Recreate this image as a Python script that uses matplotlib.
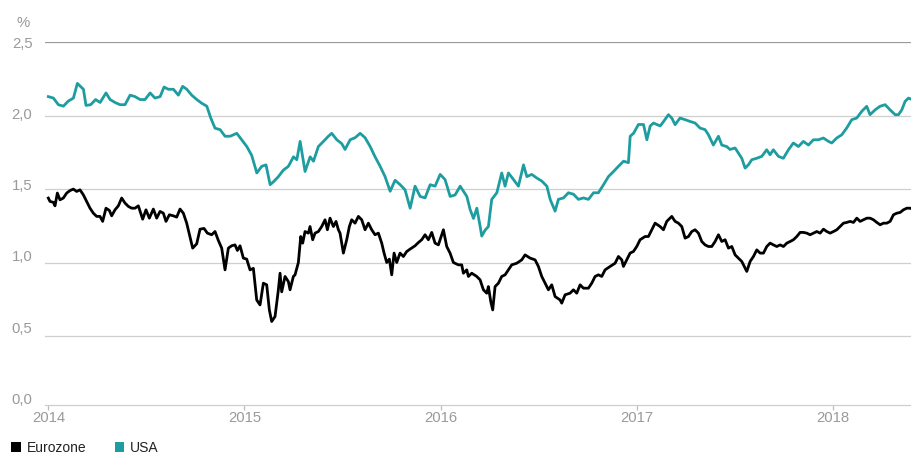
import matplotlib
matplotlib.use("Agg")
import matplotlib.pyplot as plt
from matplotlib.patches import Rectangle
from matplotlib.transforms import ScaledTranslation

# ---------------- data (decimal years, yield in %) ----------------
usa_t = [
    2014.000, 2014.026, 2014.051, 2014.077, 2014.102, 2014.128, 2014.148, 2014.179, 2014.192, 2014.216,
    2014.241, 2014.264, 2014.294, 2014.315, 2014.340, 2014.366, 2014.391, 2014.417, 2014.442, 2014.468,
    2014.493, 2014.519, 2014.544, 2014.570, 2014.590, 2014.612, 2014.638, 2014.663, 2014.685, 2014.706,
    2014.731, 2014.757, 2014.782, 2014.808, 2014.828, 2014.850, 2014.876, 2014.901, 2014.927, 2014.961,
    2014.986, 2015.012, 2015.037, 2015.063, 2015.088, 2015.110, 2015.131, 2015.148, 2015.173, 2015.199,
    2015.224, 2015.250, 2015.267, 2015.284, 2015.309, 2015.335, 2015.352, 2015.377, 2015.403, 2015.428,
    2015.445, 2015.471, 2015.496, 2015.513, 2015.539, 2015.564, 2015.590, 2015.615, 2015.641, 2015.666,
    2015.692, 2015.717, 2015.743, 2015.768, 2015.794, 2015.819, 2015.845, 2015.870, 2015.896, 2015.921,
    2015.947, 2015.972, 2015.998, 2016.023, 2016.049, 2016.074, 2016.100, 2016.134, 2016.151, 2016.168,
    2016.185, 2016.202, 2016.210, 2016.227, 2016.244, 2016.261, 2016.287, 2016.312, 2016.329, 2016.346,
    2016.372, 2016.397, 2016.423, 2016.440, 2016.465, 2016.491, 2016.516, 2016.542, 2016.559, 2016.584,
    2016.601, 2016.627, 2016.652, 2016.678, 2016.703, 2016.729, 2016.754, 2016.780, 2016.805, 2016.831,
    2016.856, 2016.882, 2016.907, 2016.933, 2016.958, 2016.967, 2016.984, 2017.009, 2017.035, 2017.052,
    2017.069, 2017.086, 2017.120, 2017.137, 2017.162, 2017.179, 2017.196, 2017.221, 2017.247, 2017.272,
    2017.298, 2017.323, 2017.349, 2017.366, 2017.391, 2017.417, 2017.434, 2017.459, 2017.476, 2017.502,
    2017.519, 2017.536, 2017.553, 2017.570, 2017.587, 2017.612, 2017.638, 2017.663, 2017.680, 2017.697,
    2017.723, 2017.748, 2017.774, 2017.799, 2017.825, 2017.850, 2017.876, 2017.901, 2017.927, 2017.952,
    2017.978, 2017.995, 2018.020, 2018.046, 2018.071, 2018.097, 2018.122, 2018.148, 2018.173, 2018.190,
    2018.216, 2018.241, 2018.267, 2018.292, 2018.318, 2018.335, 2018.352, 2018.369, 2018.386, 2018.405,
]
usa_v = [
    2.13, 2.12, 2.075, 2.065, 2.10, 2.12, 2.22, 2.18, 2.07, 2.075,
    2.11, 2.09, 2.155, 2.11, 2.09, 2.075, 2.075, 2.14, 2.13, 2.11,
    2.11, 2.155, 2.12, 2.13, 2.195, 2.18, 2.18, 2.14, 2.20, 2.18,
    2.14, 2.11, 2.085, 2.065, 1.985, 1.915, 1.905, 1.86, 1.86, 1.88,
    1.836, 1.79, 1.73, 1.61, 1.655, 1.665, 1.53, 1.55, 1.585, 1.63,
    1.655, 1.72, 1.70, 1.825, 1.62, 1.72, 1.69, 1.79, 1.825, 1.86,
    1.88, 1.836, 1.81, 1.77, 1.836, 1.85, 1.88, 1.85, 1.79, 1.72,
    1.655, 1.585, 1.485, 1.56, 1.53, 1.495, 1.37, 1.52, 1.45, 1.44,
    1.53, 1.52, 1.60, 1.565, 1.45, 1.46, 1.52, 1.45, 1.36, 1.30,
    1.37, 1.245, 1.18, 1.22, 1.245, 1.43, 1.475, 1.61, 1.52, 1.61,
    1.565, 1.52, 1.665, 1.585, 1.60, 1.575, 1.555, 1.52, 1.43, 1.35,
    1.43, 1.44, 1.475, 1.465, 1.43, 1.44, 1.43, 1.475, 1.475, 1.53,
    1.585, 1.62, 1.655, 1.69, 1.68, 1.86, 1.88, 1.94, 1.94, 1.836,
    1.93, 1.95, 1.93, 1.96, 2.007, 1.984, 1.939, 1.984, 1.973, 1.961,
    1.95, 1.916, 1.905, 1.87, 1.80, 1.86, 1.80, 1.79, 1.77, 1.78,
    1.745, 1.71, 1.643, 1.666, 1.70, 1.71, 1.723, 1.768, 1.734, 1.768,
    1.723, 1.71, 1.768, 1.814, 1.79, 1.825, 1.80, 1.836, 1.836, 1.848,
    1.825, 1.814, 1.848, 1.87, 1.916, 1.973, 1.984, 2.03, 2.064, 2.007,
    2.04, 2.064, 2.075, 2.04, 2.007, 2.007, 2.04, 2.098, 2.12, 2.11,
]

eur_t = [
    2014.000, 2014.0085, 2014.0255, 2014.034, 2014.046, 2014.0595, 2014.0765, 2014.0935, 2014.1105, 2014.1275,
    2014.1445, 2014.1615, 2014.1785, 2014.1955, 2014.2125, 2014.2295, 2014.2465, 2014.2635, 2014.277, 2014.294,
    2014.311, 2014.323, 2014.340, 2014.357, 2014.374, 2014.391, 2014.408, 2014.425, 2014.442, 2014.459,
    2014.481, 2014.498, 2014.515, 2014.5355, 2014.5525, 2014.5695, 2014.5865, 2014.600, 2014.617, 2014.6375,
    2014.6545, 2014.6715, 2014.6885, 2014.7055, 2014.7225, 2014.736, 2014.7565, 2014.7735, 2014.794, 2014.811,
    2014.833, 2014.850, 2014.867, 2014.884, 2014.901, 2014.918, 2014.935, 2014.952, 2014.964, 2014.9775,
    2014.9945, 2015.0115, 2015.0285, 2015.0455, 2015.0625, 2015.0795, 2015.0965, 2015.1135, 2015.127, 2015.139,
    2015.156, 2015.173, 2015.1815, 2015.190, 2015.207, 2015.224, 2015.2325, 2015.2495, 2015.258, 2015.275,
    2015.287, 2015.297, 2015.309, 2015.326, 2015.3345, 2015.348, 2015.360, 2015.377, 2015.394, 2015.411,
    2015.423, 2015.4365, 2015.4535, 2015.467, 2015.479, 2015.4875, 2015.5045, 2015.5215, 2015.535, 2015.547,
    2015.564, 2015.581, 2015.598, 2015.615, 2015.632, 2015.649, 2015.666, 2015.683, 2015.700, 2015.712,
    2015.7255, 2015.739, 2015.751, 2015.763, 2015.7765, 2015.7935, 2015.8105, 2015.8275, 2015.8445, 2015.870,
    2015.887, 2015.904, 2015.921, 2015.938, 2015.955, 2015.972, 2015.989, 2016.0145, 2016.0315, 2016.0485,
    2016.0655, 2016.091, 2016.108, 2016.1165, 2016.1335, 2016.142, 2016.159, 2016.1845, 2016.2015, 2016.2185,
    2016.2355, 2016.244, 2016.256, 2016.266, 2016.278, 2016.295, 2016.312, 2016.329, 2016.346, 2016.363,
    2016.3885, 2016.414, 2016.431, 2016.4565, 2016.482, 2016.499, 2016.516, 2016.533, 2016.550, 2016.567,
    2016.584, 2016.6095, 2016.618, 2016.635, 2016.6605, 2016.6775, 2016.6945, 2016.7115, 2016.7285, 2016.754,
    2016.771, 2016.788, 2016.805, 2016.822, 2016.839, 2016.8645, 2016.890, 2016.907, 2016.924, 2016.9325,
    2016.9495, 2016.9665, 2016.9835, 2017.0005, 2017.0175, 2017.043, 2017.060, 2017.094, 2017.1195,
    2017.1365, 2017.1535, 2017.179, 2017.196, 2017.213, 2017.230, 2017.247, 2017.264, 2017.281, 2017.298,
    2017.315, 2017.332, 2017.349, 2017.366, 2017.383, 2017.400, 2017.417, 2017.434, 2017.451, 2017.468,
    2017.485, 2017.502, 2017.519, 2017.536, 2017.553, 2017.5615, 2017.5785, 2017.5955, 2017.6125, 2017.6295,
    2017.6465, 2017.6635, 2017.6805, 2017.6975, 2017.7145, 2017.7315, 2017.7485, 2017.7655, 2017.7825, 2017.7995,
    2017.8165, 2017.8335, 2017.8505, 2017.8675, 2017.8845, 2017.9015, 2017.9185, 2017.9355, 2017.9525, 2017.9695,
    2017.9865, 2018.0035, 2018.0205, 2018.0375, 2018.0545, 2018.0715, 2018.0885, 2018.1055, 2018.1225, 2018.1395,
    2018.1565, 2018.1735, 2018.1905, 2018.2075, 2018.2245, 2018.2415, 2018.2585, 2018.2755, 2018.2925, 2018.3095,
    2018.3265, 2018.3435, 2018.3605, 2018.3775, 2018.3945, 2018.405,
]
eur_v = [
    1.439, 1.416, 1.41, 1.386, 1.473, 1.427, 1.439, 1.473, 1.49, 1.50,
    1.484, 1.495, 1.461, 1.416, 1.37, 1.336, 1.314, 1.314, 1.28, 1.37,
    1.355, 1.318, 1.359, 1.386, 1.439, 1.405, 1.382, 1.37, 1.37, 1.386,
    1.295, 1.359, 1.302, 1.364, 1.302, 1.348, 1.336, 1.28, 1.325, 1.318,
    1.309, 1.364, 1.336, 1.268, 1.173, 1.098, 1.127, 1.227, 1.232, 1.20,
    1.189, 1.211, 1.15, 1.098, 0.95, 1.098, 1.114, 1.12, 1.082, 1.114,
    1.03, 1.023, 0.95, 0.96, 0.745, 0.711, 0.859, 0.848, 0.677, 0.598,
    0.632, 0.814, 0.927, 0.80, 0.905, 0.87, 0.814, 0.905, 0.916, 1.00,
    1.177, 1.132, 1.211, 1.20, 1.245, 1.155, 1.20, 1.211, 1.245, 1.291,
    1.223, 1.302, 1.245, 1.28, 1.223, 1.20, 1.064, 1.155, 1.245, 1.291,
    1.268, 1.314, 1.291, 1.223, 1.268, 1.223, 1.189, 1.20, 1.132, 1.064,
    1.00, 1.023, 0.916, 1.064, 1.00, 1.064, 1.041, 1.075, 1.091, 1.114,
    1.136, 1.155, 1.189, 1.155, 1.205, 1.132, 1.12, 1.223, 1.109, 1.064,
    1.00, 0.984, 0.984, 0.927, 0.95, 0.905, 0.927, 0.905, 0.882, 0.814,
    0.791, 0.836, 0.734, 0.677, 0.836, 0.859, 0.905, 0.916, 0.95, 0.984,
    0.995, 1.018, 1.052, 1.03, 1.018, 0.973, 0.905, 0.859, 0.814, 0.848,
    0.768, 0.745, 0.723, 0.78, 0.791, 0.814, 0.791, 0.848, 0.825, 0.825,
    0.859, 0.905, 0.916, 0.905, 0.95, 0.973, 0.995, 1.041, 1.018, 0.973,
    1.018, 1.064, 1.075, 1.109, 1.155, 1.177, 1.177, 1.268, 1.245,
    1.223, 1.28, 1.314, 1.28, 1.268, 1.245, 1.166, 1.177, 1.211, 1.223,
    1.20, 1.143, 1.12, 1.109, 1.109, 1.143, 1.189, 1.143, 1.155, 1.098,
    1.109, 1.052, 1.03, 1.007, 0.961, 0.939, 1.007, 1.041, 1.086, 1.064,
    1.064, 1.109, 1.132, 1.12, 1.109, 1.12, 1.109, 1.132, 1.143, 1.155,
    1.177, 1.205, 1.205, 1.20, 1.189, 1.20, 1.211, 1.20, 1.227, 1.211,
    1.20, 1.211, 1.223, 1.245, 1.268, 1.273, 1.28, 1.273, 1.302, 1.28,
    1.291, 1.302, 1.302, 1.291, 1.273, 1.257, 1.268, 1.268, 1.28, 1.325,
    1.336, 1.341, 1.359, 1.37, 1.37, 1.364,
]

series_names = ["Eurozone", "USA"]
series_colors = ["#000000", "#1d9da0"]
y_ticks = [0.0, 0.5, 1.0, 1.5, 2.0, 2.5]
y_labels = ["0,0", "0,5", "1,0", "1,5", "2,0", "2,5"]
x_ticks = [2014, 2015, 2016, 2017, 2018]
x_labels = ["2014", "2015", "2016", "2017", "2018"]

# ---------------- figure ----------------
plt.rcParams["font.family"] = ["Liberation Sans", "DejaVu Sans"]
W, H = 912, 454
fig = plt.figure(figsize=(W / 100, H / 100), dpi=100)
ax = fig.add_axes([45 / W, 1 - 409.3 / H, 1 - 45 / W, (409.3 - 42.3) / H])

label_color = "#9a9a9a"

for y in y_ticks[1:]:
    ax.axhline(y, color="#9a9a9a" if y == 2.5 else "#cfcfcf", lw=0.9, zorder=1)

ax.plot(usa_t, usa_v, color=series_colors[1], lw=2.0, zorder=3, solid_joinstyle="round")
ax.plot(eur_t, eur_v, color=series_colors[0], lw=2.0, zorder=4, solid_joinstyle="round")

ax.set_xlim(2013.983, 2018.404)
ax.set_ylim(0, 2.5)

for s in ["top", "right", "left"]:
    ax.spines[s].set_visible(False)
ax.spines["bottom"].set_color("#cfcfcf")
ax.spines["bottom"].set_linewidth(0.9)
ax.spines["bottom"].set_position(("axes", 4.3 / 367))

ax.set_yticks(y_ticks)
ax.set_yticklabels(y_labels)
ax.set_xticks(x_ticks)
ax.set_xticklabels(x_labels)
ax.tick_params(axis="y", length=0, pad=9, labelsize=10.7, labelcolor=label_color)
ax.tick_params(axis="x", length=3.5, width=0.9, color="#bdbdbd", pad=0.5,
               labelsize=10.7, labelcolor=label_color)

# y labels sit slightly above their grid lines in the reference, more so lower down
for val, lab in zip(y_ticks, ax.get_yticklabels()):
    dy = (2.5 - val) * 4.4 / 100
    lab.set_transform(lab.get_transform() + ScaledTranslation(0, dy, fig.dpi_scale_trans))

fig.text(23.5 / W, 1 - 23 / H, "%", ha="center", va="center",
         fontsize=10.7, color=label_color)

# legend
leg_x = [11.5, 115.5]
txt_x = [27, 130]
for name, col, lx, tx in zip(series_names, series_colors, leg_x, txt_x):
    fig.patches.append(Rectangle((lx / W, 2 / H), 9 / W, 10 / H, transform=fig.transFigure,
                                 facecolor=col, edgecolor="none"))
    fig.text(tx / W, 2 / H, name, ha="left", va="baseline", fontsize=10, color="#222222")

fig.savefig("out.png", dpi=100)
